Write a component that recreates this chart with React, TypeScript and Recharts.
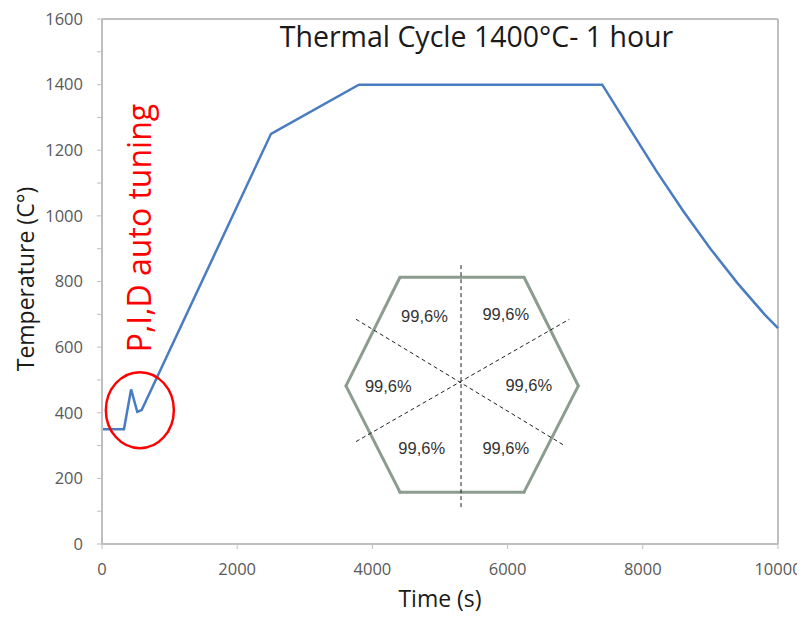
import React from 'react';
import { LineChart, Line, XAxis, YAxis, ReferenceLine, ReferenceDot } from 'recharts';

// ── Data: thermal cycle ──────────────────────────────────────────────────────
const timeS = [0, 325, 430, 522, 587, 2500, 3800, 7400, 7800, 8200, 8600, 9000, 9400, 9800, 10000];
const tempC = [350, 350, 471, 403, 408, 1250, 1400, 1400, 1268, 1137, 1014, 900, 795, 700, 658];

const xTicks = [0, 2000, 4000, 6000, 8000, 10000];
const yTicks = [0, 100, 200, 300, 400, 500, 600, 700, 800, 900, 1000, 1100, 1200, 1300, 1400, 1500, 1600];

const title = 'Thermal Cycle 1400°C- 1 hour';
const pidNote = 'P,I,D auto tuning';
const sectorLabels = ['99,6%', '99,6%', '99,6%', '99,6%', '99,6%', '99,6%'];

const data = timeS.map((t, i) => ({ t, temp: tempC[i] }));

// ── Inset sketch (hexagon with sectors), in data coordinates ─────────────────
const hexPts = [
  { x: 4408, y: 813 }, { x: 6243, y: 813 }, { x: 7046, y: 482 },
  { x: 6243, y: 158 }, { x: 4408, y: 158 }, { x: 3609, y: 482 },
];
const cutLines = [
  [{ x: 5311, y: 850 }, { x: 5311, y: 110 }],
  [{ x: 3757, y: 685 }, { x: 6849, y: 299 }],
  [{ x: 3757, y: 312 }, { x: 6913, y: 685 }],
];
const sectorPos = [
  { x: 4771, y: 696 }, { x: 5973, y: 700 }, { x: 4235, y: 482 },
  { x: 6314, y: 486 }, { x: 4729, y: 293 }, { x: 5973, y: 293 },
];

const FONT = '"Open Sans", sans-serif';
const AXIS = '#bfbfbf';
const tick = { fill: '#595959', fontSize: 16.5, fontFamily: FONT };

export default function App() {
  return (
    <LineChart width={797} height={605} data={data} margin={{ top: 11, right: 27, bottom: 0, left: 0 }}>
      <XAxis
        dataKey="t" type="number" domain={[0, 10000]} ticks={xTicks} interval={0}
        height={69} tickSize={5} tickMargin={14} tick={tick}
        axisLine={{ stroke: AXIS, strokeWidth: 2 }} tickLine={{ stroke: AXIS }}
        label={{
          content: (p: any) => (
            <text x={p.viewBox.x + p.viewBox.width / 2} y={p.viewBox.y + 63} textAnchor="middle"
              fontFamily={FONT} fontSize={23} fill="#1a1a1a">Time (s)</text>
          ),
        }}
      />
      <YAxis
        type="number" domain={[0, 1600]} ticks={yTicks} interval={0}
        width={94} tickSize={5} tickMargin={14} tick={tick}
        tickFormatter={(v: number) => (v % 200 === 0 ? String(v) : '')}
        axisLine={{ stroke: AXIS, strokeWidth: 2 }} tickLine={{ stroke: AXIS }}
        label={{
          content: (p: any) => {
            const x = 26, y = p.viewBox.y + 260;
            return (
              <text x={x} y={y} textAnchor="middle" transform={`rotate(-90, ${x}, ${y})`}
                fontFamily={FONT} fontSize={23} fill="#1a1a1a">Temperature (C°)</text>
            );
          },
        }}
      />

      {/* plot frame, top + right */}
      <ReferenceLine y={1600} stroke={AXIS} strokeWidth={2} />
      <ReferenceLine x={10000} stroke={AXIS} strokeWidth={2} />

      {/* hexagon */}
      {hexPts.map((p, i) => (
        <ReferenceLine key={'h' + i} segment={[p, hexPts[(i + 1) % hexPts.length]]}
          stroke="#8c9c8e" strokeWidth={3} strokeLinecap="round" />
      ))}
      {cutLines.map((s, i) => (
        <ReferenceLine key={'c' + i} segment={s} stroke="#222" strokeWidth={1} strokeDasharray="4 3" />
      ))}
      {sectorPos.map((p, i) => (
        <ReferenceDot key={'s' + i} x={p.x} y={p.y} r={0}
          shape={(d: any) => (
            <text x={d.cx} y={d.cy} textAnchor="middle" dominantBaseline="central"
              fontFamily='"Liberation Sans", Arial, sans-serif' fontSize={16.5} fill="#333">{sectorLabels[i]}</text>
          )} />
      ))}

      <Line type="linear" dataKey="temp" stroke="#4a7cc2" strokeWidth={2.5} dot={false} isAnimationActive={false} />

      {/* P,I,D annotation */}
      <ReferenceDot x={560} y={408} r={0}
        shape={(d: any) => <ellipse cx={d.cx} cy={d.cy} rx={34} ry={38} fill="none" stroke="#ff0000" strokeWidth={2.5} />} />
      <ReferenceDot x={725} y={963} r={0}
        shape={(d: any) => (
          <text x={d.cx} y={d.cy} textAnchor="middle" transform={`rotate(-90, ${d.cx}, ${d.cy})`}
            fontFamily={FONT} fontSize={32} fill="#ff0000">{pidNote}</text>
        )} />

      {/* title */}
      <ReferenceDot x={5540} y={1515} r={0}
        shape={(d: any) => (
          <text x={d.cx} y={d.cy} textAnchor="middle" fontFamily={FONT} fontSize={28.5} fill="#1a1a1a">{title}</text>
        )} />
    </LineChart>
  );
}
